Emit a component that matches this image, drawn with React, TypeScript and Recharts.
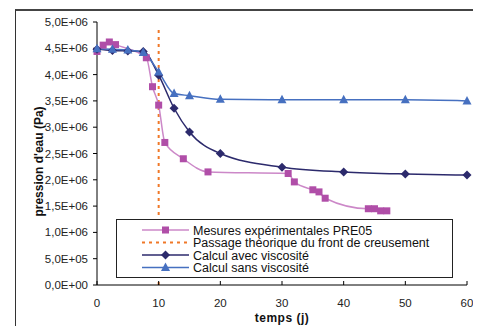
import React from "react";
import { LineChart, Line, XAxis, YAxis, Legend, Label } from "recharts";

// jours
const mesuresJours = [0, 1, 2, 3, 8, 9, 10, 11, 14, 18, 31, 32, 35, 36, 37, 44, 45, 46, 47];
// pression mesurée (Pa)
const mesuresPression = [4.44e6, 4.56e6, 4.62e6, 4.57e6, 4.32e6, 3.77e6, 3.42e6, 2.71e6, 2.4e6, 2.15e6, 2.12e6, 1.96e6, 1.81e6, 1.77e6, 1.65e6, 1.45e6, 1.45e6, 1.41e6, 1.41e6];

const calculJours = [0, 2.5, 5, 7.5, 10, 12.5, 15, 20, 30, 40, 50, 60];
const avecViscosite = [4.48e6, 4.46e6, 4.45e6, 4.44e6, 3.99e6, 3.36e6, 2.91e6, 2.5e6, 2.24e6, 2.15e6, 2.11e6, 2.09e6];
const sansViscosite = [4.49e6, 4.48e6, 4.47e6, 4.42e6, 4.05e6, 3.64e6, 3.6e6, 3.53e6, 3.52e6, 3.52e6, 3.52e6, 3.5e6];

const frontJours = [10, 10];
const frontPression = [0, 4.9e6];

const xTicks = [0, 10, 20, 30, 40, 50, 60];
const yTicks = [0, 5e5, 1e6, 1.5e6, 2e6, 2.5e6, 3e6, 3.5e6, 4e6, 4.5e6, 5e6];

const mesures = mesuresJours.map((t, i) => ({ t, p: mesuresPression[i] }));
const avec = calculJours.map((t, i) => ({ t, p: avecViscosite[i] }));
const sans = calculJours.map((t, i) => ({ t, p: sansViscosite[i] }));
const front = frontJours.map((t, i) => ({ t, p: frontPression[i] }));

const PINK = "#b04ea8";
const PINK_LINE = "#cc88c8";
const NAVY = "#2c2a6c";
const BLUE = "#4670c0";
const ORANGE = "#f07828";

const font = "'Liberation Sans', Arial, sans-serif";

function fmtExp(v: number) {
  if (v === 0) return "0,0E+00";
  const e = Math.floor(Math.log10(v) + 1e-9);
  const m = v / Math.pow(10, e);
  return m.toFixed(1).replace(".", ",") + "E+" + String(e).padStart(2, "0");
}

function Marker({ kind, cx, cy, color }: { kind: string; cx: number; cy: number; color: string }) {
  if (kind === "square") return <rect x={cx - 3.5} y={cy - 3.5} width={7} height={7} fill={color} />;
  if (kind === "diamond")
    return <polygon points={`${cx},${cy - 4.5} ${cx + 4.5},${cy} ${cx},${cy + 4.5} ${cx - 4.5},${cy}`} fill={color} />;
  return <polygon points={`${cx},${cy - 5} ${cx + 4.5},${cy + 3.5} ${cx - 4.5},${cy + 3.5}`} fill={color} />;
}

const dot = (kind: string, color: string) => (props: any) => {
  const { cx, cy, index } = props;
  if (cx == null || cy == null) return <g key={index} />;
  return <Marker key={index} kind={kind} cx={cx} cy={cy} color={color} />;
};

const legendRows = [
  { label: "Mesures expérimentales PRE05", line: PINK_LINE, marker: "square", mcolor: PINK, dashed: false },
  { label: "Passage théorique du front de creusement", line: ORANGE, marker: "", mcolor: "", dashed: true },
  { label: "Calcul avec viscosité", line: NAVY, marker: "diamond", mcolor: NAVY, dashed: false },
  { label: "Calcul sans viscosité", line: BLUE, marker: "triangle", mcolor: BLUE, dashed: false },
];

function LegendBox() {
  return (
    <div style={{ border: "1px solid #222", width: 337, height: 59, background: "#fff", boxSizing: "border-box" }}>
      <svg width={335} height={57} style={{ display: "block" }}>
        {legendRows.map((r, i) => {
          const y = 10 + i * 12.5;
          return (
            <g key={r.label}>
              <line x1={25} x2={72} y1={y} y2={y} stroke={r.line} strokeWidth={r.dashed ? 2 : 1.5} strokeDasharray={r.dashed ? "3 4" : undefined} />
              {r.marker && <Marker kind={r.marker} cx={48.5} cy={y} color={r.mcolor} />}
              <text x={76} y={y + 4.5} fontSize={12.5} fontFamily={font} fill="#111">{r.label}</text>
            </g>
          );
        })}
      </svg>
    </div>
  );
}

export default function App() {
  return (
    <div style={{ position: "relative", width: 473, height: 318, overflow: "hidden" }}>
      <div style={{ position: "absolute", left: 7, top: 1, width: 462, height: 340, border: "1px solid #333", borderTop: "2px solid #444", boxSizing: "border-box" }} />
      <div style={{ position: "absolute", left: 0, top: 0 }}>
        <LineChart width={473} height={318} margin={{ top: 14, right: 14, bottom: 11, left: 23 }}>
          <XAxis
            type="number"
            dataKey="t"
            domain={[0, 60]}
            ticks={xTicks}
            allowDuplicatedCategory={false}
            height={30}
            stroke="#000"
            tickSize={-4}
            tickMargin={18}
            tick={{ fontSize: 11.5, fontFamily: font, fill: "#222" }}
          >
            <Label
              content={(p: any) => {
                const vb = p.viewBox;
                return (
                  <text x={vb.x + vb.width / 2} y={vb.y + 37} textAnchor="middle" fontSize={12} fontWeight="bold" fontFamily={font} fill="#111" letterSpacing={0.5}>
                    temps (j)
                  </text>
                );
              }}
            />
          </XAxis>
          <YAxis
            type="number"
            dataKey="p"
            domain={[0, 5e6]}
            ticks={yTicks}
            width={66}
            stroke="#000"
            tickSize={4}
            tickMargin={5}
            tickFormatter={fmtExp}
            tick={{ fontSize: 11.5, fontFamily: font, fill: "#222" }}
          >
            <Label
              content={(p: any) => {
                const vb = p.viewBox;
                const x = vb.x + 9;
                const y = vb.y + vb.height / 2 + 8;
                return (
                  <text x={x} y={y} transform={`rotate(-90 ${x} ${y})`} textAnchor="middle" dominantBaseline="middle" fontSize={12} fontWeight="bold" fontFamily={font} fill="#111">
                    pression d'eau (Pa)
                  </text>
                );
              }}
            />
          </YAxis>
          <Legend
            layout="vertical"
            align="center"
            verticalAlign="middle"
            wrapperStyle={{ left: 108, top: 211, width: 337, height: 59 }}
            content={() => <LegendBox />}
          />
          <Line data={front} dataKey="p" name="Passage théorique du front de creusement" type="linear" stroke={ORANGE} strokeWidth={2} strokeDasharray="3 4" dot={false} isAnimationActive={false} />
          <Line data={mesures} dataKey="p" name="Mesures expérimentales PRE05" type="monotone" stroke={PINK_LINE} strokeWidth={1.5} dot={dot("square", PINK)} isAnimationActive={false} />
          <Line data={avec} dataKey="p" name="Calcul avec viscosité" type="monotone" stroke={NAVY} strokeWidth={1.5} dot={dot("diamond", NAVY)} isAnimationActive={false} />
          <Line data={sans} dataKey="p" name="Calcul sans viscosité" type="monotone" stroke={BLUE} strokeWidth={1.5} dot={dot("triangle", BLUE)} isAnimationActive={false} />
        </LineChart>
      </div>
    </div>
  );
}
